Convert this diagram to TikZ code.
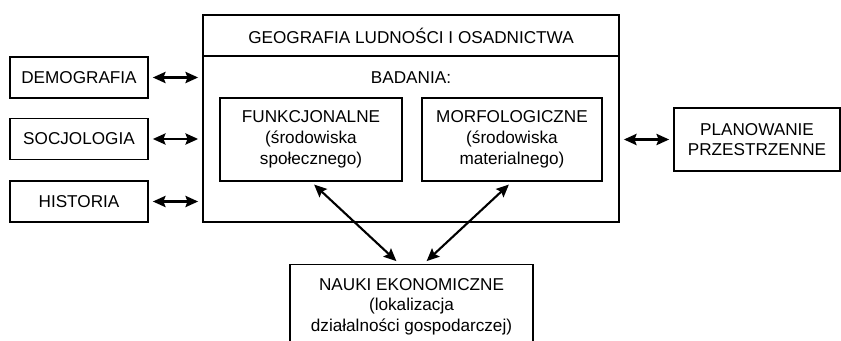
\documentclass[tikz,border=0pt]{standalone}
\usepackage{fontspec}
\setmainfont{Liberation Sans}
\usetikzlibrary{arrows.meta}

\begin{document}
\begin{tikzpicture}[x=0.025cm, y=-0.025cm,
	box/.style={draw, line width=0.9pt, inner sep=0pt, align=center, font=\fontsize{12.2}{14.8}\selectfont},
	label/.style={inner sep=0pt, font=\fontsize{12.2}{14.8}\selectfont},
	link/.style={{Stealth[length=9pt,width=8pt,inset=1.5pt]}-{Stealth[length=9pt,width=8pt,inset=1.5pt]}, line width=1.5pt, shorten <=3pt, shorten >=3pt}]
			\useasboundingbox (0,0) rectangle (841,341);
			
			%main frame
			\node[box, minimum width=10.4cm, minimum height=1.025cm] (geografia) at (411, 35.5){GEOGRAFIA LUDNOŚCI I OSADNICTWA};
			\node[box, minimum width=10.4cm, minimum height=4.15cm] (obszar) at (411, 139){};
			\node[label] (badania) at (411, 78){BADANIA:};
			\node[box, minimum width=4.55cm, minimum height=2.075cm] (funkcjonalne) at (311, 139.5){FUNKCJONALNE\\(środowiska\\społecznego)};
			\node[box, minimum width=4.5cm, minimum height=2.075cm] (morfologiczne) at (512, 139.5){MORFOLOGICZNE\\(środowiska\\materialnego)};
			
			%neighbouring sciences
			\node[box, minimum width=3.45cm, minimum height=1.025cm] (demografia) at (79, 77.5){DEMOGRAFIA};
			\node[box, minimum width=3.45cm, minimum height=1.025cm] (socjologia) at (79, 139){SOCJOLOGIA};
			\node[box, minimum width=3.45cm, minimum height=1.025cm] (historia) at (79, 201.5){HISTORIA};
			\node[box, minimum width=4.15cm, minimum height=1.575cm] (planowanie) at (757, 139.5){PLANOWANIE\\PRZESTRZENNE};
			\node[box, anchor=north, minimum width=6.075cm, minimum height=2.1cm] (nauki) at (411.5, 264){NAUKI EKONOMICZNE\\(lokalizacja\\działalności gospodarczej)};
			
			\foreach \n in {demografia, socjologia, historia}{
				\draw[link] (\n) -- (\n -| obszar.west);
			}
			\draw[link] (obszar.east |- planowanie) -- (planowanie);
			\draw[link] (funkcjonalne.south) -- ([xshift=-0.3cm]nauki.north);
			\draw[link] (morfologiczne.south) -- ([xshift=0.3cm]nauki.north);
		\end{tikzpicture}
\end{document}
